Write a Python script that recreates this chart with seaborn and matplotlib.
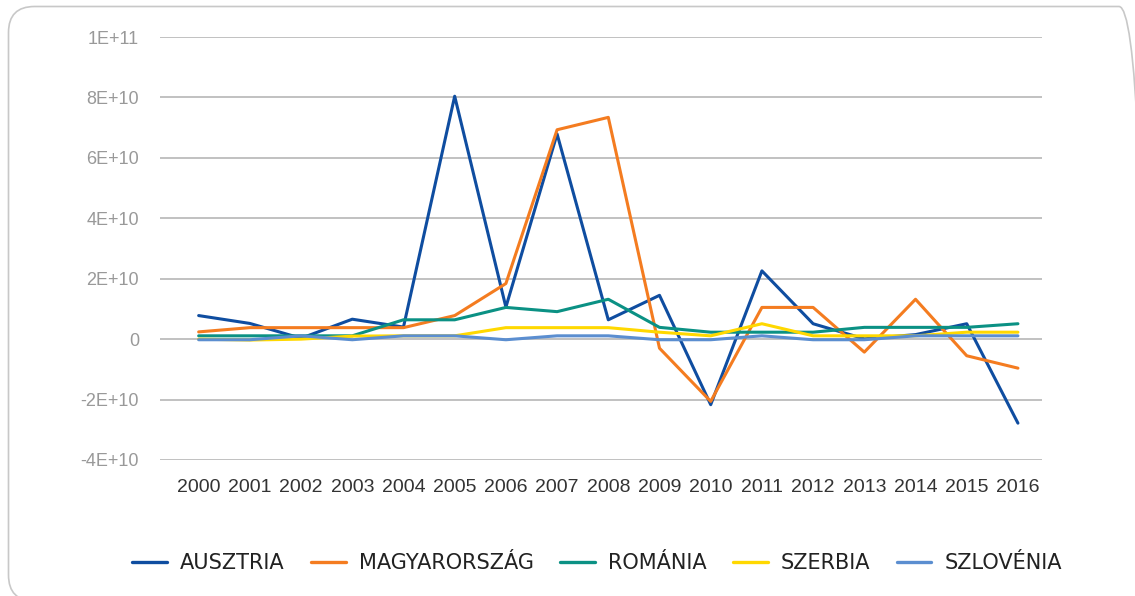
import matplotlib
matplotlib.use("Agg")
import matplotlib.pyplot as plt
from matplotlib.patches import FancyBboxPatch
import seaborn as sns
import pandas as pd

years = list(range(2000, 2017))
countries = ["AUSZTRIA", "MAGYARORSZÁG", "ROMÁNIA", "SZERBIA", "SZLOVÉNIA"]
colors = ["#0F4DA0", "#F47C20", "#0B9184", "#FFD800", "#5B8ED0"]

ausztria = [7.8e9, 5.2e9, 0.3e9, 6.6e9, 4.0e9, 80.4e9, 10.6e9, 67.9e9, 6.4e9, 14.5e9,
            -21.7e9, 22.6e9, 5.1e9, 0.1e9, 1.5e9, 5.1e9, -27.8e9]
magyarorszag = [2.4e9, 3.8e9, 3.8e9, 3.8e9, 3.8e9, 7.8e9, 18.4e9, 69.3e9, 73.4e9, -3.0e9,
                -20.6e9, 10.5e9, 10.5e9, -4.3e9, 13.2e9, -5.5e9, -9.6e9]
romania = [1.1e9, 1.1e9, 1.1e9, 1.1e9, 6.4e9, 6.4e9, 10.5e9, 9.1e9, 13.2e9, 3.9e9,
           2.3e9, 2.3e9, 2.3e9, 3.9e9, 3.9e9, 3.9e9, 5.1e9]
szerbia = [0.0, -0.3e9, 0.0, 1.0e9, 1.1e9, 1.1e9, 3.8e9, 3.8e9, 3.8e9, 2.3e9,
           1.1e9, 5.1e9, 1.1e9, 1.1e9, 1.1e9, 2.3e9, 2.3e9]
szlovenia = [-0.2e9, -0.2e9, 1.1e9, -0.2e9, 1.1e9, 1.1e9, -0.2e9, 1.1e9, 1.1e9, -0.2e9,
             -0.2e9, 1.1e9, -0.2e9, -0.2e9, 1.1e9, 1.1e9, 1.1e9]

ytick_vals = [-4e10, -2e10, 0, 2e10, 4e10, 6e10, 8e10, 1e11]
ytick_labels = ["-4E+10", "-2E+10", "0", "2E+10", "4E+10", "6E+10", "8E+10", "1E+11"]

series = [ausztria, magyarorszag, romania, szerbia, szlovenia]
df = pd.DataFrame({
    "year": years * len(countries),
    "country": [c for c in countries for _ in years],
    "value": [v for s in series for v in s],
})

sns.set_theme(style="white")
tickfont = ["Liberation Sans", "DejaVu Sans"]
plt.rcParams["font.family"] = tickfont

fig = plt.figure(figsize=(11.35, 5.96), dpi=100)
W, H = 1135, 596
ax = fig.add_axes([160 / W, 1 - 460 / H, (1042 - 160) / W, (460 - 37) / H])

# rounded frame (pixel coordinates, origin bottom-left)
frame = FancyBboxPatch((8.5, -5), 1145 - 8.5, H - 6.5 + 5,
                       boxstyle="round,pad=0,rounding_size=26",
                       transform=None, fill=False,
                       edgecolor="#c8c8c8", linewidth=1.2, zorder=0)
fig.patches.append(frame)

sns.lineplot(data=df, x="year", y="value", hue="country", hue_order=countries,
             palette=colors, linewidth=2.2, ax=ax, legend=True)

ax.set_xlim(2000 - 0.755, 2016 + 0.47)
ax.set_ylim(-4e10, 1e11)
ax.set_xticks(years)
ax.set_xticklabels([str(y) for y in years], fontsize=14, color="#333333",
                   family=tickfont)
ax.set_yticks(ytick_vals)
ax.set_yticklabels(ytick_labels, fontsize=13, color="#999999", family=tickfont)
ax.tick_params(axis="both", length=0)
ax.tick_params(axis="x", pad=14)
ax.tick_params(axis="y", pad=15)
ax.set_xlabel("")
ax.set_ylabel("")
ax.grid(axis="y", color="#b0b0b0", linewidth=1.1)
ax.grid(axis="x", visible=False)
ax.set_axisbelow(True)
for s in ax.spines.values():
    s.set_visible(False)

handles, labels = ax.get_legend_handles_labels()
for h in handles:
    h.set_linewidth(2.4)
ax.legend_.remove()
fig.legend(handles, labels, loc="center", bbox_to_anchor=(597 / W, 1 - 563 / H),
           ncol=5, frameon=False, handlelength=1.67, handletextpad=0.62,
           columnspacing=1.27, prop={"family": "DejaVu Sans", "size": 15},
           labelcolor="#222222")

fig.savefig("out.png", dpi=100)
